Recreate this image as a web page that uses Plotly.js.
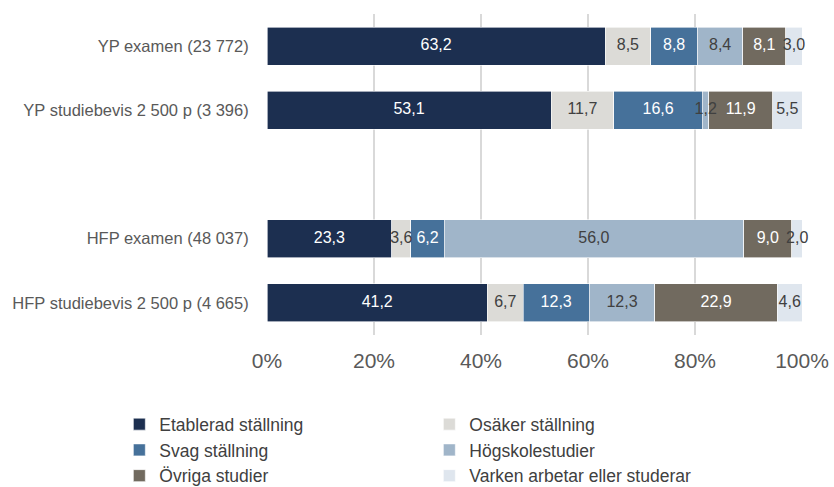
<!DOCTYPE html>
<html>
<head>
<meta charset="utf-8">
<script src="https://cdn.plot.ly/plotly-3.0.1.min.js"></script>
<style>html,body{margin:0;padding:0;background:#fff;}#chart{width:834px;height:487px;}</style>
</head>
<body>
<div id="chart"></div>
<script>
var categories = ['YP examen (23 772)', 'YP studiebevis 2 500 p (3 396)', ' ', 'HFP examen (48 037)', 'HFP studiebevis 2 500 p (4 665)'];
var seriesNames = ['Etablerad ställning', 'Osäker ställning', 'Svag ställning', 'Högskolestudier', 'Övriga studier', 'Varken arbetar eller studerar'];
var etablerad = [63.2, 53.1, null, 23.3, 41.2];
var osaker    = [8.5, 11.7, null, 3.6, 6.7];
var svag      = [8.8, 16.6, null, 6.2, 12.3];
var hogskola  = [8.4, 1.2, null, 56.0, 12.3];
var ovriga    = [8.1, 11.9, null, 9.0, 22.9];
var varken    = [3.0, 5.5, null, 2.0, 4.6];
var xTickVals = [0, 20, 40, 60, 80, 100];
var xTickText = ['0%', '20%', '40%', '60%', '80%', '100%'];

var seriesValues = [etablerad, osaker, svag, hogskola, ovriga, varken];
var colors = ['#1c2f50', '#dcdbd7', '#46719a', '#a0b5c9', '#716a5f', '#dfe6ee'];
var textColors = ['#ffffff', '#404040', '#ffffff', '#404040', '#ffffff', '#404040'];
var FONT = 'Liberation Sans, Arial, sans-serif';

var traces = seriesValues.map(function (vals, i) {
  return {
    type: 'bar',
    orientation: 'h',
    name: seriesNames[i],
    y: categories,
    x: vals,
    marker: {color: colors[i], line: {color: '#ffffff', width: 0.6}},
    hoverinfo: 'skip'
  };
});

// value labels, centred on each stacked segment (positions derived from the data)
var cum = categories.map(function () { return 0; });
seriesValues.forEach(function (vals, i) {
  var xs = [], ys = [], ts = [];
  vals.forEach(function (v, j) {
    if (v === null) return;
    xs.push(cum[j] + v / 2);
    ys.push(categories[j]);
    ts.push(v.toFixed(1).replace('.', ','));
    cum[j] += v;
  });
  traces.push({
    type: 'scatter',
    mode: 'text',
    x: xs,
    y: ys,
    text: ts,
    textposition: 'middle center',
    textfont: {family: FONT, size: 16, color: textColors[i]},
    showlegend: false,
    cliponaxis: false,
    hoverinfo: 'skip'
  });
});

var layout = {
  width: 834,
  height: 487,
  barmode: 'stack',
  bargap: 0.41,
  paper_bgcolor: '#ffffff',
  plot_bgcolor: '#ffffff',
  margin: {l: 267, r: 32, t: 14, b: 152, pad: 0, autoexpand: false},
  font: {family: FONT, color: '#595959'},
  xaxis: {
    range: [0, 100],
    tickvals: xTickVals,
    ticktext: xTickText,
    showgrid: true,
    gridcolor: '#d9d9d9',
    gridwidth: 1.3,
    zeroline: false,
    showline: false,
    ticks: 'outside',
    ticklen: 7,
    tickcolor: 'rgba(0,0,0,0)',
    tickfont: {size: 21, color: '#595959'},
    fixedrange: true
  },
  yaxis: {
    type: 'category',
    categoryorder: 'array',
    categoryarray: categories,
    autorange: 'reversed',
    showgrid: false,
    zeroline: false,
    showline: false,
    ticks: 'outside',
    ticklen: 14,
    tickcolor: 'rgba(0,0,0,0)',
    tickfont: {size: 16.5, color: '#595959'},
    fixedrange: true
  },
  showlegend: true,
  legend: {
    orientation: 'h',
    x: -0.276,
    xanchor: 'left',
    y: -0.222,
    yanchor: 'top',
    entrywidth: 265,
    entrywidthmode: 'pixels',
    traceorder: 'normal',
    font: {size: 17.5, color: '#404040'},
    bgcolor: 'rgba(0,0,0,0)',
    itemclick: false,
    itemdoubleclick: false
  }
};

Plotly.newPlot('chart', traces, layout, {displayModeBar: false, staticPlot: true});
</script>
</body>
</html>
